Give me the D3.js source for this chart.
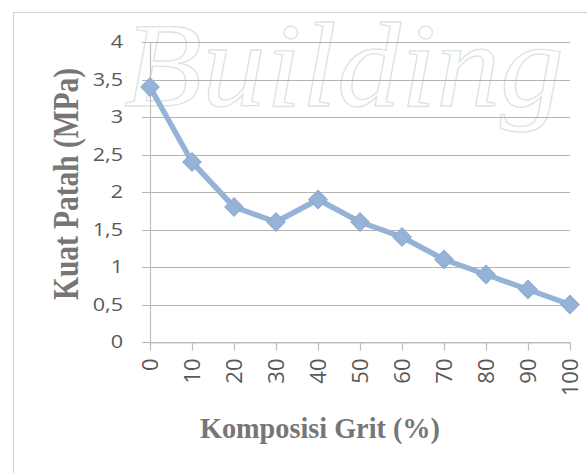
<!DOCTYPE html>
<html>
<head>
<meta charset="utf-8">
<script src="https://cdn.jsdelivr.net/npm/d3@7"></script>
<style>
  body { margin: 0; background: #fff; }
  svg { display: block; }
</style>
</head>
<body>
<svg width="587" height="473"></svg>
<script>
// values
var komposisi = ["0", "10", "20", "30", "40", "50", "60", "70", "80", "90", "100"];
var kuatPatah = [3.4, 2.4, 1.8, 1.6, 1.9, 1.6, 1.4, 1.1, 0.9, 0.7, 0.5];
var yTicks = [0, 0.5, 1, 1.5, 2, 2.5, 3, 3.5, 4];

var svg = d3.select("svg"),
    margin = {top: 42, left: 150},
    width = 420,
    height = 300;

// faint watermark behind everything
svg.append("text")
    .attr("x", 124)
    .attr("y", 106)
    .attr("textLength", 440)
    .attr("lengthAdjust", "spacingAndGlyphs")
    .style("font", "italic 120px 'Liberation Serif', serif")
    .style("fill", "none")
    .style("stroke", "#dbe5de")
    .style("stroke-width", 1.3)
    .text("Building");

// chart border
svg.append("rect")
    .attr("x", 13.5).attr("y", 12.5)
    .attr("width", 600).attr("height", 500)
    .attr("fill", "none")
    .attr("stroke", "#d0d0d0");

var g = svg.append("g").attr("transform", "translate(" + margin.left + "," + margin.top + ")");

var x = d3.scalePoint().domain(komposisi).range([0, width]);
var y = d3.scaleLinear().domain([0, 4]).range([height, 0]);

// horizontal gridlines
g.selectAll(".grid")
    .data(yTicks)
  .enter().append("line")
    .attr("class", "grid")
    .attr("x1", -8).attr("x2", width)
    .attr("y1", function(d) { return Math.round(y(d)) + 0.5; })
    .attr("y2", function(d) { return Math.round(y(d)) + 0.5; })
    .attr("stroke", "#b4b4b4")
    .attr("stroke-width", 1.2);

// y axis labels (a bit wide, like the original)
g.selectAll(".ylab")
    .data(yTicks)
  .enter().append("text")
    .attr("transform", function(d) { return "translate(-27," + y(d) + ") scale(1.2,1)"; })
    .attr("dy", "0.36em")
    .attr("text-anchor", "end")
    .style("font", "18px 'Open Sans', sans-serif")
    .style("fill", "#595959")
    .text(function(d) { return String(d).replace(".", ","); });

// y axis line
g.append("line")
    .attr("x1", 0.5).attr("x2", 0.5)
    .attr("y1", 0).attr("y2", height)
    .attr("stroke", "#bfbfbf").attr("stroke-width", 1.2);

// x axis with ticks
var xAxis = g.append("g")
    .attr("transform", "translate(0," + (height + 0.5) + ")")
    .call(d3.axisBottom(x).tickSize(8).tickSizeOuter(0));
xAxis.select(".domain").attr("stroke", "#bfbfbf").attr("stroke-width", 1.2);
xAxis.selectAll(".tick line").attr("stroke", "#bfbfbf").attr("stroke-width", 1.2);
xAxis.selectAll(".tick text")
    .attr("transform", "rotate(-90)")
    .attr("x", -16)
    .attr("y", 0)
    .attr("dy", "0.36em")
    .attr("text-anchor", "end")
    .style("font", "22px 'Open Sans', sans-serif")
    .style("fill", "#595959");

// data line
var line = d3.line()
    .x(function(d, i) { return x(komposisi[i]); })
    .y(function(d) { return y(d); });

g.append("path")
    .datum(kuatPatah)
    .attr("d", line)
    .attr("fill", "none")
    .attr("stroke", "#95b3d7")
    .attr("stroke-width", 5.5)
    .attr("stroke-linejoin", "round");

var diamond = d3.symbol().type(d3.symbolSquare).size(170);
g.selectAll(".pt")
    .data(kuatPatah)
  .enter().append("path")
    .attr("class", "pt")
    .attr("d", diamond)
    .attr("transform", function(d, i) { return "translate(" + x(komposisi[i]) + "," + y(d) + ") rotate(45)"; })
    .attr("fill", "#95b3d7")
    .attr("stroke", "#8eaad0")
    .attr("stroke-width", 1);

// axis titles
svg.append("text")
    .attr("transform", "translate(78,184) rotate(-90)")
    .attr("text-anchor", "middle")
    .attr("textLength", 232)
    .attr("lengthAdjust", "spacingAndGlyphs")
    .style("font", "bold 36px 'Liberation Serif', serif")
    .style("fill", "#767676")
    .text("Kuat Patah (MPa)");

svg.append("text")
    .attr("x", 320)
    .attr("y", 438)
    .attr("text-anchor", "middle")
    .attr("textLength", 240)
    .attr("lengthAdjust", "spacingAndGlyphs")
    .style("font", "bold 30px 'Liberation Serif', serif")
    .style("fill", "#767676")
    .text("Komposisi Grit (%)");
</script>
</body>
</html>
